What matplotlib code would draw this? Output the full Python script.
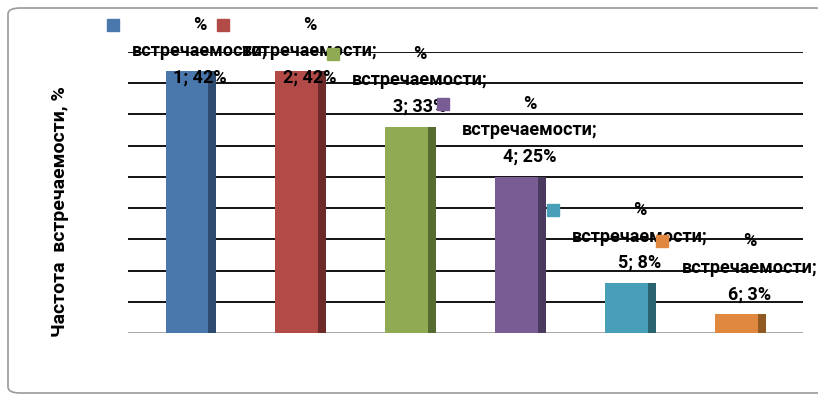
import numpy as np
import matplotlib
matplotlib.use("Agg")
import matplotlib.pyplot as plt
from matplotlib.patches import FancyBboxPatch

plt.rcParams["font.family"] = ["Roboto", "DejaVu Sans"]

# data
categories = [1, 2, 3, 4, 5, 6]
values = [42, 42, 33, 25, 8, 3]
face_colors = ["#4A78AD", "#B24B47", "#8FAA53", "#7A5C94", "#4A9FB8", "#E0883F"]
side_colors = ["#2D4B6E", "#6E2A29", "#566B30", "#4B3A5F", "#2B6371", "#915A23"]
y_label = "Частота  встречаемости, %"

W, H = 818, 396
fig = plt.figure(figsize=(W / 100, H / 100), dpi=100)

# rounded chart frame
frame = FancyBboxPatch((8 / W, 3 / H), 820 / W, 385 / H,
                       boxstyle="round,pad=0,rounding_size=0.015",
                       transform=fig.transFigure, facecolor="white",
                       edgecolor="#9a9a9a", lw=1.2, zorder=-1)
fig.patches.append(frame)

ax = fig.add_axes([128 / W, 63 / H, 675 / W, 281 / H])
ax.set_facecolor("none")
ax.set_ylim(0, 45)
ax.set_xlim(-0.573, 5.57)
for s in ax.spines.values():
    s.set_visible(False)
ax.set_xticks([])
ax.set_yticks([])

# gridlines every 5%
for g in np.arange(5, 46, 5):
    ax.axhline(g, color="black", lw=1.3, zorder=1)
ax.axhline(0, color="#a0a0a0", lw=2, zorder=1)

x = np.arange(len(categories))
face_w = 0.39
side_w = 0.072
ax.bar(x - side_w / 2, values, width=face_w, color=face_colors, zorder=2)
ax.bar(x + face_w / 2, values, width=side_w, color=side_colors, zorder=2)

# data labels: "% / встречаемости; / N; X%" with legend key
px = 45 / 281  # data units per pixel (y)
pxx = 1 / 110  # data units per pixel (x)
top_limit = (333 - 25) * px
for i, (c, v) in enumerate(zip(categories, values)):
    y1 = min(v + 73 * px, top_limit)
    tx = x[i] + 9 * pxx
    lines = ["%", "встречаемости;", f"{c}; {v}%"]
    for k, t in enumerate(lines):
        ax.text(tx, y1 - k * 26.5 * px, t, ha="center", va="center",
                fontsize=13, fontweight="bold", color="black", zorder=4,
                clip_on=False)
    ax.plot([x[i] - 78 * pxx], [y1], marker="s", markersize=8,
            color=face_colors[i], zorder=5, clip_on=False, lw=0)

fig.text(60 / W, 1 - 212 / H, y_label, rotation=90, ha="center", va="center",
         fontsize=14, fontweight="bold")

fig.savefig("out.png", dpi=100)
